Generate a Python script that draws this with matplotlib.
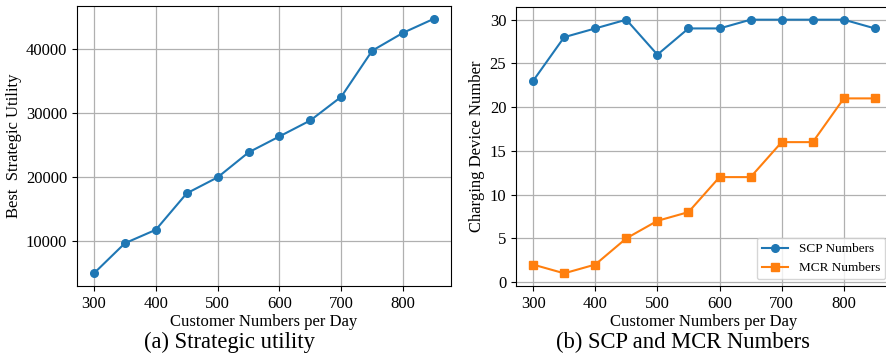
import matplotlib
matplotlib.use("Agg")
import matplotlib.pyplot as plt

plt.rcParams['font.family'] = ['Liberation Serif', 'DejaVu Serif']

customers = [300, 350, 400, 450, 500, 550, 600, 650, 700, 750, 800, 850]
utility = [5000, 9700, 11800, 17500, 20000, 23900, 26400, 28900, 32600, 39800, 42600, 44800]
scp = [23, 28, 29, 30, 26, 29, 29, 30, 30, 30, 30, 29]
mcr = [2, 1, 2, 5, 7, 8, 12, 12, 16, 16, 21, 21]

W, H = 886, 358
fig = plt.figure(figsize=(W / 100, H / 100), dpi=100)

def pos(x0, x1, ytop, ybot):
    return [x0 / W, 1 - ybot / H, (x1 - x0) / W, (ybot - ytop) / H]

ax1 = fig.add_axes(pos(77, 451, 6, 286))
ax2 = fig.add_axes(pos(516, 892, 7, 286))

ax1.plot(customers, utility, marker='o', color='#1f77b4', markersize=5.5, linewidth=1.5)
ax1.set_xlabel('Customer Numbers per Day', fontsize=12, labelpad=2)
ax1.set_ylabel('Best  Strategic Utility', fontsize=12, labelpad=3)
ax1.set_yticks([10000, 20000, 30000, 40000])

ax2.plot(customers, scp, marker='o', color='#1f77b4', markersize=5.5, linewidth=1.5, label='SCP Numbers')
ax2.plot(customers, mcr, marker='s', color='#ff7f0e', markersize=5.5, linewidth=1.5, label='MCR Numbers')
ax2.set_xlabel('Customer Numbers per Day', fontsize=12, labelpad=2)
ax2.set_ylabel('Charging Device Number', fontsize=12, labelpad=3)
ax2.set_yticks([0, 5, 10, 15, 20, 25, 30])
ax2.legend(loc='lower right', fontsize=9.5)

for ax in (ax1, ax2):
    ax.grid(True, color='#b0b0b0', linewidth=0.9)
    ax.set_axisbelow(True)
    ax.set_xticks([300, 400, 500, 600, 700, 800])
    ax.tick_params(labelsize=12, length=3.5)

fig.text(229 / W, 1 - 342 / H, '(a) Strategic utility', fontsize=16.3, ha='center', va='center')
fig.text(683 / W, 1 - 342 / H, '(b) SCP and MCR Numbers', fontsize=16.3, ha='center', va='center')

fig.savefig('out.png', dpi=100)
